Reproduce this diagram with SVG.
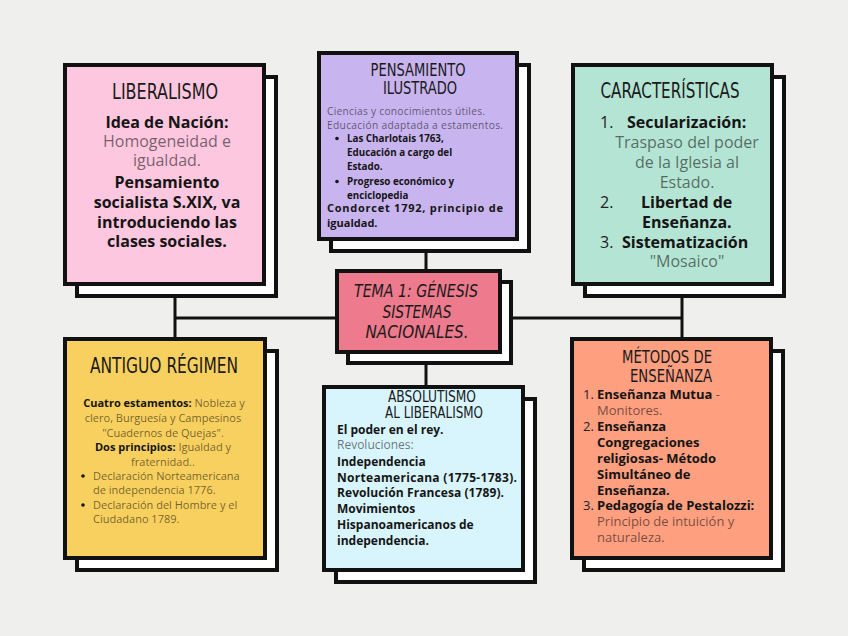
<svg xmlns="http://www.w3.org/2000/svg" width="848" height="636" viewBox="0 0 848 636">
<defs>
<style>
.bg{fill:#efefee}
.box{stroke:#111;stroke-width:4}
.sh{fill:#fff;stroke:#111;stroke-width:4}
.con{stroke:#111;stroke-width:3;fill:none}
.t{font-family:"Liberation Sans Narrow","DejaVu Sans Condensed",sans-serif;fill:#1a1a1a;text-anchor:middle}
.tm{font-family:"Liberation Sans Narrow","DejaVu Sans Condensed",sans-serif;font-style:italic;fill:#1a1a1a;text-anchor:middle;font-size:18px}
.b{font-family:"Open Sans","DejaVu Sans",sans-serif;font-weight:700;fill:#151515}
.r{font-family:"Open Sans","DejaVu Sans",sans-serif;font-weight:400;fill:#000;fill-opacity:0.55}
.n{font-family:"Open Sans","DejaVu Sans",sans-serif;font-weight:400;fill:#222}
.c{text-anchor:middle}
</style>
</defs>
<rect class="bg" x="0" y="0" width="848" height="636"/>

<g id="connectors">
<path class="con" d="M175 290 V340"/>
<path class="con" d="M175 318 H682"/>
<path class="con" d="M682 290 V340"/>
<path class="con" d="M426 245 V388"/>
</g>

<g id="liberalismo">
<rect class="sh" x="77" y="77" width="199" height="219"/>
<rect class="box" x="65" y="65" width="199" height="219" fill="#fdc7df"/>
<text class="t" x="165" y="99" font-size="22" textLength="106" lengthAdjust="spacingAndGlyphs">LIBERALISMO</text>
<g font-size="16">
<text class="b c" x="167" y="128">Idea de Nación:</text>
<text class="r c" x="167" y="147">Homogeneidad e</text>
<text class="r c" x="167" y="166">igualdad.</text>
<text class="b c" x="167" y="188">Pensamiento</text>
<text class="b c" x="167" y="208">socialista S.XIX, va</text>
<text class="b c" x="167" y="228">introduciendo las</text>
<text class="b c" x="167" y="247">clases sociales.</text>
</g>
</g>

<g id="pensamiento">
<rect class="sh" x="331" y="65" width="198" height="186"/>
<rect class="box" x="319" y="53" width="198" height="186" fill="#c8b4ee"/>
<text class="t" x="418" y="76" font-size="17" textLength="95" lengthAdjust="spacingAndGlyphs">PENSAMIENTO</text>
<text class="t" x="420" y="94" font-size="17" textLength="74" lengthAdjust="spacingAndGlyphs">ILUSTRADO</text>
<g font-size="10.2">
<text class="r" x="327" y="115" textLength="158">Ciencias y conocimientos útiles.</text>
<text class="r" x="327" y="129" textLength="176">Educación adaptada a estamentos.</text>
</g>
<g font-size="9.8">
<circle cx="337" cy="138.5" r="1.8" fill="#151515"/>
<text class="b" x="347" y="142">Las Charlotais 1763,</text>
<text class="b" x="347" y="156">Educación a cargo del</text>
<text class="b" x="347" y="170">Estado.</text>
<circle cx="337" cy="181.5" r="1.8" fill="#151515"/>
<text class="b" x="347" y="185">Progreso  económico y</text>
<text class="b" x="347" y="199">enciclopedia</text>
</g>
<text class="b" x="327" y="212" font-size="11" textLength="176">Condorcet 1792, principio de</text>
<text class="b" x="327" y="227" font-size="11">igualdad.</text>
</g>

<g id="caracteristicas">
<rect class="sh" x="585" y="77" width="199" height="219"/>
<rect class="box" x="573" y="65" width="199" height="219" fill="#b4e4d3"/>
<text class="t" x="670" y="98" font-size="21" textLength="139" lengthAdjust="spacingAndGlyphs">CARACTERÍSTICAS</text>
<g font-size="16">
<text class="n" x="600" y="128">1.</text>
<text class="b" x="627" y="128">Secularización:</text>
<text class="r c" x="687" y="148">Traspaso del poder</text>
<text class="r c" x="687" y="168">de la Iglesia al</text>
<text class="r c" x="687" y="188">Estado.</text>
<text class="n" x="600" y="208">2.</text>
<text class="b" x="641" y="208">Libertad de</text>
<text class="b" x="642" y="228">Enseñanza.</text>
<text class="n" x="600" y="248">3.</text>
<text class="b" x="622" y="248">Sistematización</text>
<text class="r c" x="687" y="267">"Mosaico"</text>
</g>
</g>

<g id="tema">
<rect class="sh" x="348" y="282" width="163" height="81"/>
<rect class="box" x="337" y="271" width="163" height="81" fill="#ed7a8d"/>
<text class="tm" x="416" y="297" textLength="124" lengthAdjust="spacingAndGlyphs">TEMA 1: GÉNESIS</text>
<text class="tm" x="417" y="318" textLength="69" lengthAdjust="spacingAndGlyphs">SISTEMAS</text>
<text class="tm" x="417" y="338" textLength="103" lengthAdjust="spacingAndGlyphs">NACIONALES.</text>
</g>

<g id="antiguo">
<rect class="sh" x="77" y="351" width="200" height="219"/>
<rect class="box" x="65" y="339" width="200" height="219" fill="#f8d05f"/>
<text class="t" x="164" y="373" font-size="22" textLength="148" lengthAdjust="spacingAndGlyphs">ANTIGUO RÉGIMEN</text>
<g font-size="11">
<text class="c" x="164" y="407"><tspan class="b">Cuatro estamentos:</tspan><tspan class="r"> Nobleza y</tspan></text>
<text class="r c" x="163" y="422">clero, Burguesía y Campesinos</text>
<text class="r c" x="163" y="437">"Cuadernos de Quejas".</text>
<text class="c" x="163" y="451"><tspan class="b">Dos principios:</tspan><tspan class="r"> Igualdad y</tspan></text>
<text class="r c" x="163" y="466">fraternidad..</text>
<circle cx="83" cy="476" r="1.8" fill="#151515"/>
<text class="r" x="93" y="480">Declaración Norteamericana</text>
<text class="r" x="93" y="494">de independencia 1776.</text>
<circle cx="83" cy="505" r="1.8" fill="#151515"/>
<text class="r" x="93" y="509">Declaración del Hombre y el</text>
<text class="r" x="93" y="523">Ciudadano 1789.</text>
</g>
</g>

<g id="absolutismo">
<rect class="sh" x="336" y="399" width="199" height="183"/>
<rect class="box" x="324" y="387" width="199" height="183" fill="#d8f5fd"/>
<text class="t" x="432" y="402" font-size="15" textLength="88" lengthAdjust="spacingAndGlyphs">ABSOLUTISMO</text>
<text class="t" x="434" y="418" font-size="15" textLength="98" lengthAdjust="spacingAndGlyphs">AL LIBERALISMO</text>
<g font-size="12">
<text class="b" x="337" y="434">El poder en el rey.</text>
<text class="r" x="337" y="449">Revoluciones:</text>
<text class="b" x="337" y="466">Independencia</text>
<text class="b" x="337" y="482" textLength="180">Norteamericana (1775-1783).</text>
<text class="b" x="337" y="497" textLength="167">Revolución Francesa (1789).</text>
<text class="b" x="337" y="513">Movimientos</text>
<text class="b" x="337" y="529">Hispanoamericanos de</text>
<text class="b" x="337" y="545">independencia.</text>
</g>
</g>

<g id="metodos">
<rect class="sh" x="584" y="351" width="199" height="219"/>
<rect class="box" x="572" y="339" width="199" height="219" fill="#fe9f80"/>
<text class="t" x="667" y="363" font-size="17" textLength="90" lengthAdjust="spacingAndGlyphs">MÉTODOS DE</text>
<text class="t" x="671" y="382" font-size="17" textLength="82" lengthAdjust="spacingAndGlyphs">ENSEÑANZA</text>
<g font-size="13">
<text class="n" x="583" y="399">1.</text>
<text x="597" y="399"><tspan class="b">Enseñanza Mutua</tspan><tspan class="r"> -</tspan></text>
<text class="r" x="597" y="415">Monitores.</text>
<text class="n" x="583" y="431">2.</text>
<text class="b" x="597" y="431">Enseñanza</text>
<text class="b" x="597" y="447">Congregaciones</text>
<text class="b" x="597" y="463">religiosas- Método</text>
<text class="b" x="597" y="479">Simultáneo de</text>
<text class="b" x="597" y="495">Enseñanza.</text>
<text class="n" x="583" y="510">3.</text>
<text class="b" x="597" y="510">Pedagogía de Pestalozzi:</text>
<text class="r" x="597" y="526">Principio de intuición y</text>
<text class="r" x="597" y="542">naturaleza.</text>
</g>
</g>
</svg>
